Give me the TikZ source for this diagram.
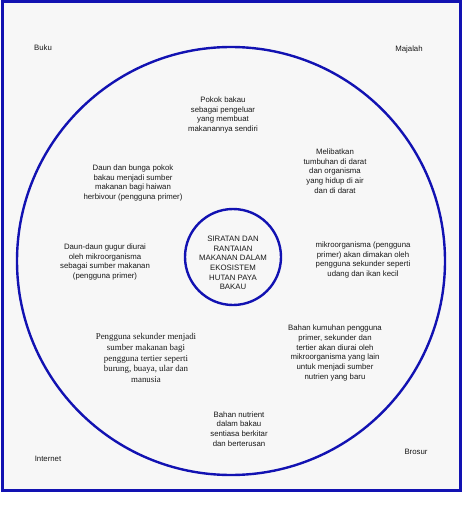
\documentclass[tikz,border=0pt]{standalone}
\usepackage{fontspec}
\setmainfont{Liberation Sans}
\newfontfamily\serifblock{Liberation Serif}
\definecolor{ringblue}{RGB}{18,18,178}
\definecolor{paper}{RGB}{247,247,247}
\definecolor{ink}{RGB}{25,25,25}
\begin{document}
\begin{tikzpicture}[x=1pt,y=-1pt,
	txt/.style={align=center, text=ink, inner sep=0pt, font=\fontsize{7.8}{9.7}\selectfont},
	sertxt/.style={align=center, text=ink, inner sep=0pt, font=\serifblock\fontsize{8.9}{10.9}\selectfont},
	ring/.style={draw=ringblue, line width=2.4pt}]
	\useasboundingbox (0,0) rectangle (474,505);
	\draw[draw=ringblue, line width=3pt, fill=paper] (2,2) rectangle (460,490);
	\draw[ring] (231,261) circle (214);
	\node[ring, circle, minimum size=96pt, inner sep=0pt] (pusat) at (233,257) {};
	\node[txt] (tajuk) at (233,263) {SIRATAN DAN\\RANTAIAN\\MAKANAN DALAM\\EKOSISTEM\\HUTAN PAYA\\BAKAU};
	% sumber rujukan di sudut
	\node[txt] (buku) at (43,48) {Buku};
	\node[txt] (majalah) at (409,49) {Majalah};
	\node[txt] (internet) at (48,459) {Internet};
	\node[txt] (brosur) at (416,452) {Brosur};
	% isi bulatan besar
	\node[txt] (pengeluar) at (223,115) {Pokok bakau\\sebagai pengeluar\\yang membuat\\makanannya sendiri};
	\node[txt] (melibatkan) at (335,171) {Melibatkan\\tumbuhan di darat\\dan organisma\\yang hidup di air\\dan di darat};
	\node[txt] (herbivor) at (133,183) {Daun dan bunga pokok\\bakau menjadi sumber\\makanan bagi haiwan\\herbivour (pengguna primer)};
	\node[txt] (gugur) at (105,262) {Daun-daun gugur diurai\\oleh mikroorganisma\\sebagai sumber makanan\\(pengguna primer)};
	\node[txt] (mikro) at (363,260) {mikroorganisma (pengguna\\primer) akan dimakan oleh\\pengguna sekunder seperti\\udang dan ikan kecil};
	\node[sertxt] (tertier) at (146,358) {Pengguna sekunder menjadi\\sumber makanan bagi\\pengguna tertier seperti\\burung, buaya, ular dan\\manusia};
	\node[txt] (kumuhan) at (335,353) {Bahan kumuhan pengguna\\primer, sekunder dan\\tertier akan diurai oleh\\mikroorganisma yang lain\\untuk menjadi sumber\\nutrien yang baru};
	\node[txt] (nutrient) at (239,429) {Bahan nutrient\\dalam bakau\\sentiasa berkitar\\dan berterusan};
\end{tikzpicture}
\end{document}
